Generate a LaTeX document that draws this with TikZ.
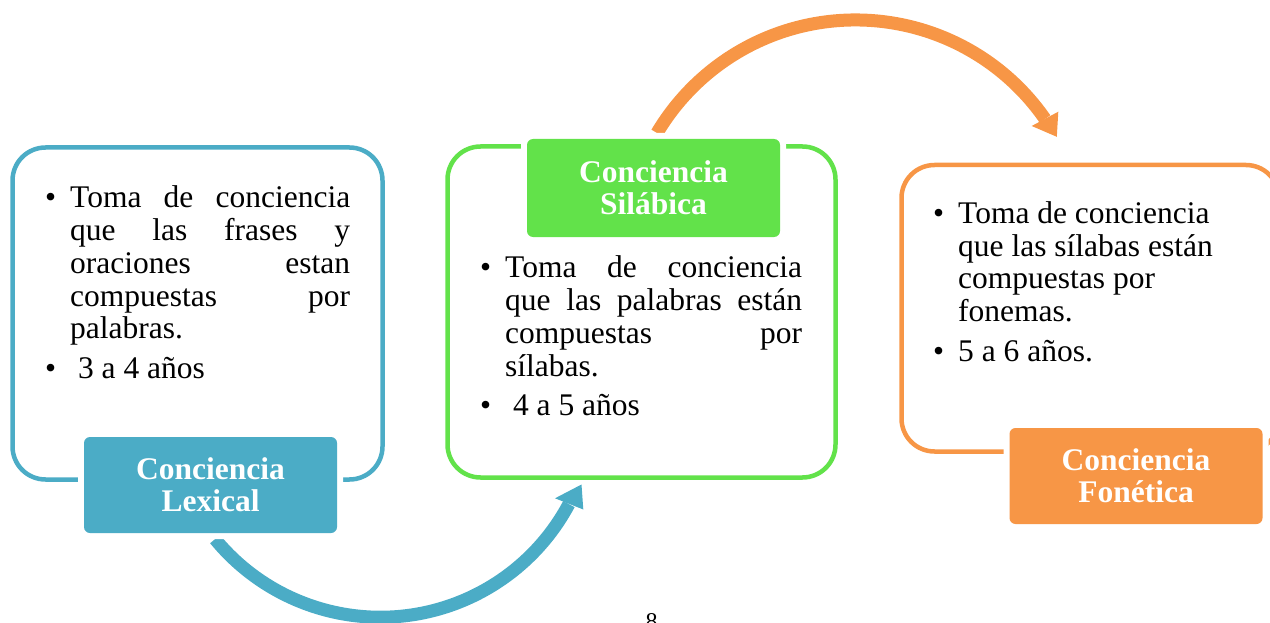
\documentclass[tikz,border=0pt]{standalone}
\usepackage{fontspec}
\setmainfont{Liberation Serif}
\definecolor{cblue}{HTML}{4BACC6}
\definecolor{cgreen}{HTML}{62E24A}
\definecolor{corange}{HTML}{F79646}
\newcommand\itm[1]{\par\noindent\hangindent=25pt\hangafter=1\makebox[25pt][l]{\textbullet}#1\par}
\newcommand\txtfont{\fontsize{31.5}{32.8}\selectfont\setlength\parskip{6.5pt}}
\begin{document}
\begin{tikzpicture}[x=1pt,y=-1pt,
  outlinebox/.style={draw=#1, line width=4.5pt, rounded corners=33pt, inner sep=0pt},
  labelbox/.style={fill=#1, rounded corners=6pt, inner sep=0pt, minimum width=253pt, minimum height=96pt,
     text=white, font=\fontsize{31.5}{32.4}\selectfont\bfseries, align=center,
     preaction={draw=white, line width=12pt}},
  bodytext/.style={anchor=base west, inner sep=0pt},
  shaft/.style={draw=#1, line width=13pt}]
\useasboundingbox (0,0) rectangle (1270,623);
% outline boxes
\node[outlinebox=cblue, minimum width=370pt, minimum height=332pt] (box1) at (197.5,313.5) {};
\node[outlinebox=cgreen, minimum width=388pt, minimum height=331pt] (box2) at (641.5,312) {};
\node[outlinebox=corange, minimum width=377.5pt, minimum height=286.5pt] (box3) at (1090.25,308.25) {};
% body texts
\node[bodytext] (txt1) at (45,207.7) {\begin{minipage}[t]{305pt}\txtfont
\itm{Toma de conciencia\linebreak que las frases y\linebreak oraciones estan\linebreak compuestas por\linebreak palabras.}
\itm{\ 3 a 4 años}
\end{minipage}};
\node[bodytext] (txt2) at (480,277.7) {\begin{minipage}[t]{322pt}\txtfont
\itm{Toma de conciencia\linebreak que las palabras están\linebreak compuestas por\linebreak sílabas.}
\itm{\ 4 a 5 años}
\end{minipage}};
\node[bodytext] (txt3) at (933,223.3) {\begin{minipage}[t]{300pt}\txtfont\raggedright
\itm{Toma de conciencia\newline que las sílabas están\newline compuestas por\newline fonemas.}
\itm{5 a 6 años.}
\end{minipage}};
% arrows
\coordinate (b0) at (215.1,539.1);
\coordinate (b1) at (401.4,616.2);
\coordinate (b2) at (568.9,504.1);
\coordinate (bt) at (581.5,484.5);
\coordinate (bl) at (555,498.3);
\coordinate (br) at (583.3,509.5);
\draw[shaft=cblue] (b0) .. controls (260.4,594.3) and (330.4,623.2) .. (b1)
  .. controls (472.4,609.2) and (535.3,567.1) .. (b2);
\fill[cblue] (bt) -- (bl) -- (br) -- cycle;
\coordinate (o0) at (657,133);
\coordinate (o1) at (847.2,20.1);
\coordinate (o2) at (1045,119);
\coordinate (ot) at (1056.8,136.8);
\coordinate (ol) at (1031.7,126);
\coordinate (or) at (1058.3,111.7);
\draw[shaft=corange] (o0) .. controls (697.1,65.5) and (768.7,22.9) .. (o1)
  .. controls (925.7,17.3) and (1000.2,54.5) .. (o2);
\fill[corange] (ot) -- (ol) -- (or) -- cycle;
% labels
\node[labelbox=cblue] (lab1) at (210.5,485) {Conciencia\\Lexical};
\node[labelbox=cgreen, minimum height=98pt] (lab2) at (653.5,188) {Conciencia\\Silábica};
\node[labelbox=corange] (lab3) at (1136,476) {Conciencia\\Fonética};
% page number
\node[anchor=base, inner sep=0pt, font=\fontsize{24}{28}\selectfont] (pnum) at (651.7,629.5) {8};
\end{tikzpicture}
\end{document}
